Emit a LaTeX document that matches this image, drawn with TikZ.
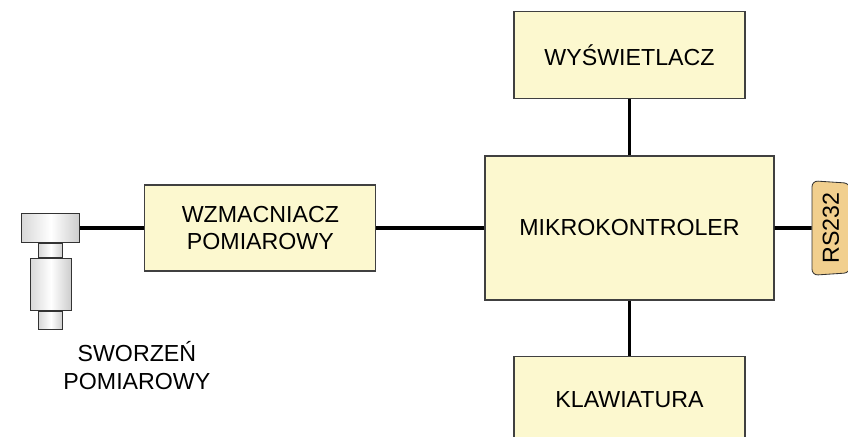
\documentclass[tikz,border=0pt]{standalone}
\usepackage{fontspec}
\setmainfont{Liberation Sans}
\usepackage{xcolor}
\usetikzlibrary{positioning, shapes.geometric}

\definecolor{boxyellow}{HTML}{FCF8CF}
\definecolor{plugorange}{HTML}{F1CF8E}

\begin{document}
\begin{tikzpicture}[
            node distance=1.4cm and 2.7cm,
            every node/.style={font=\fontsize{16.5}{19.9}\selectfont},
            block/.style={rectangle, draw=black!75, line width=0.8pt, fill=boxyellow, align=center, minimum width=5.775cm, minimum height=2.175cm},
            part/.style={rectangle, draw=black!80, line width=0.6pt, left color=gray!30, right color=gray!40, middle color=white, inner sep=0pt},
            plug/.style={trapezium, trapezium angle=95, trapezium stretches=true, rotate=90, draw=black!80, line width=0.6pt, fill=plugorange, rounded corners=0.15cm, minimum width=2.375cm, minimum height=0.95cm},
            wire/.style={line width=2.6pt, black}
        ]
            \useasboundingbox (0,0) rectangle (21.2,-10.9);

            % Nodes
            \node[block, minimum width=7.225cm, minimum height=3.6cm] (mcu) at (15.7375,-5.7) {MIKROKONTROLER};
            \node[block, above=of mcu] (display) {WYŚWIETLACZ};
            \node[block, below=1.375cm of mcu] (keyboard) {KLAWIATURA};
            \node[block, left=of mcu, minimum height=2.15cm] (amp) {WZMACNIACZ\\POMIAROWY};
            \node[plug, right=0.925cm of mcu, anchor=north] (rs) {RS232};

            % Measuring pin
            \node[part, left=1.6cm of amp, minimum width=1.45cm, minimum height=0.725cm] (pinhead) {};
            \node[part, below=0cm of pinhead, minimum width=0.6cm, minimum height=0.35cm] (pinneck) {};
            \node[part, below=0cm of pinneck, minimum width=1.025cm, minimum height=1.3cm] (pinbody) {};
            \node[part, below=0cm of pinbody, minimum width=0.6cm, minimum height=0.45cm] (pinfoot) {};
            \node[below=0.3cm of pinfoot, xshift=2.15cm, inner sep=0pt, align=center] (pinlabel) {SWORZEŃ\\POMIAROWY};

            % Lines
            \draw[wire] (pinhead) -- (amp);
            \draw[wire] (amp) -- (mcu);
            \draw[wire] (mcu) -- (display);
            \draw[wire] (mcu) -- (keyboard);
            \draw[wire] (mcu) -- (rs);

        \end{tikzpicture}
\end{document}
